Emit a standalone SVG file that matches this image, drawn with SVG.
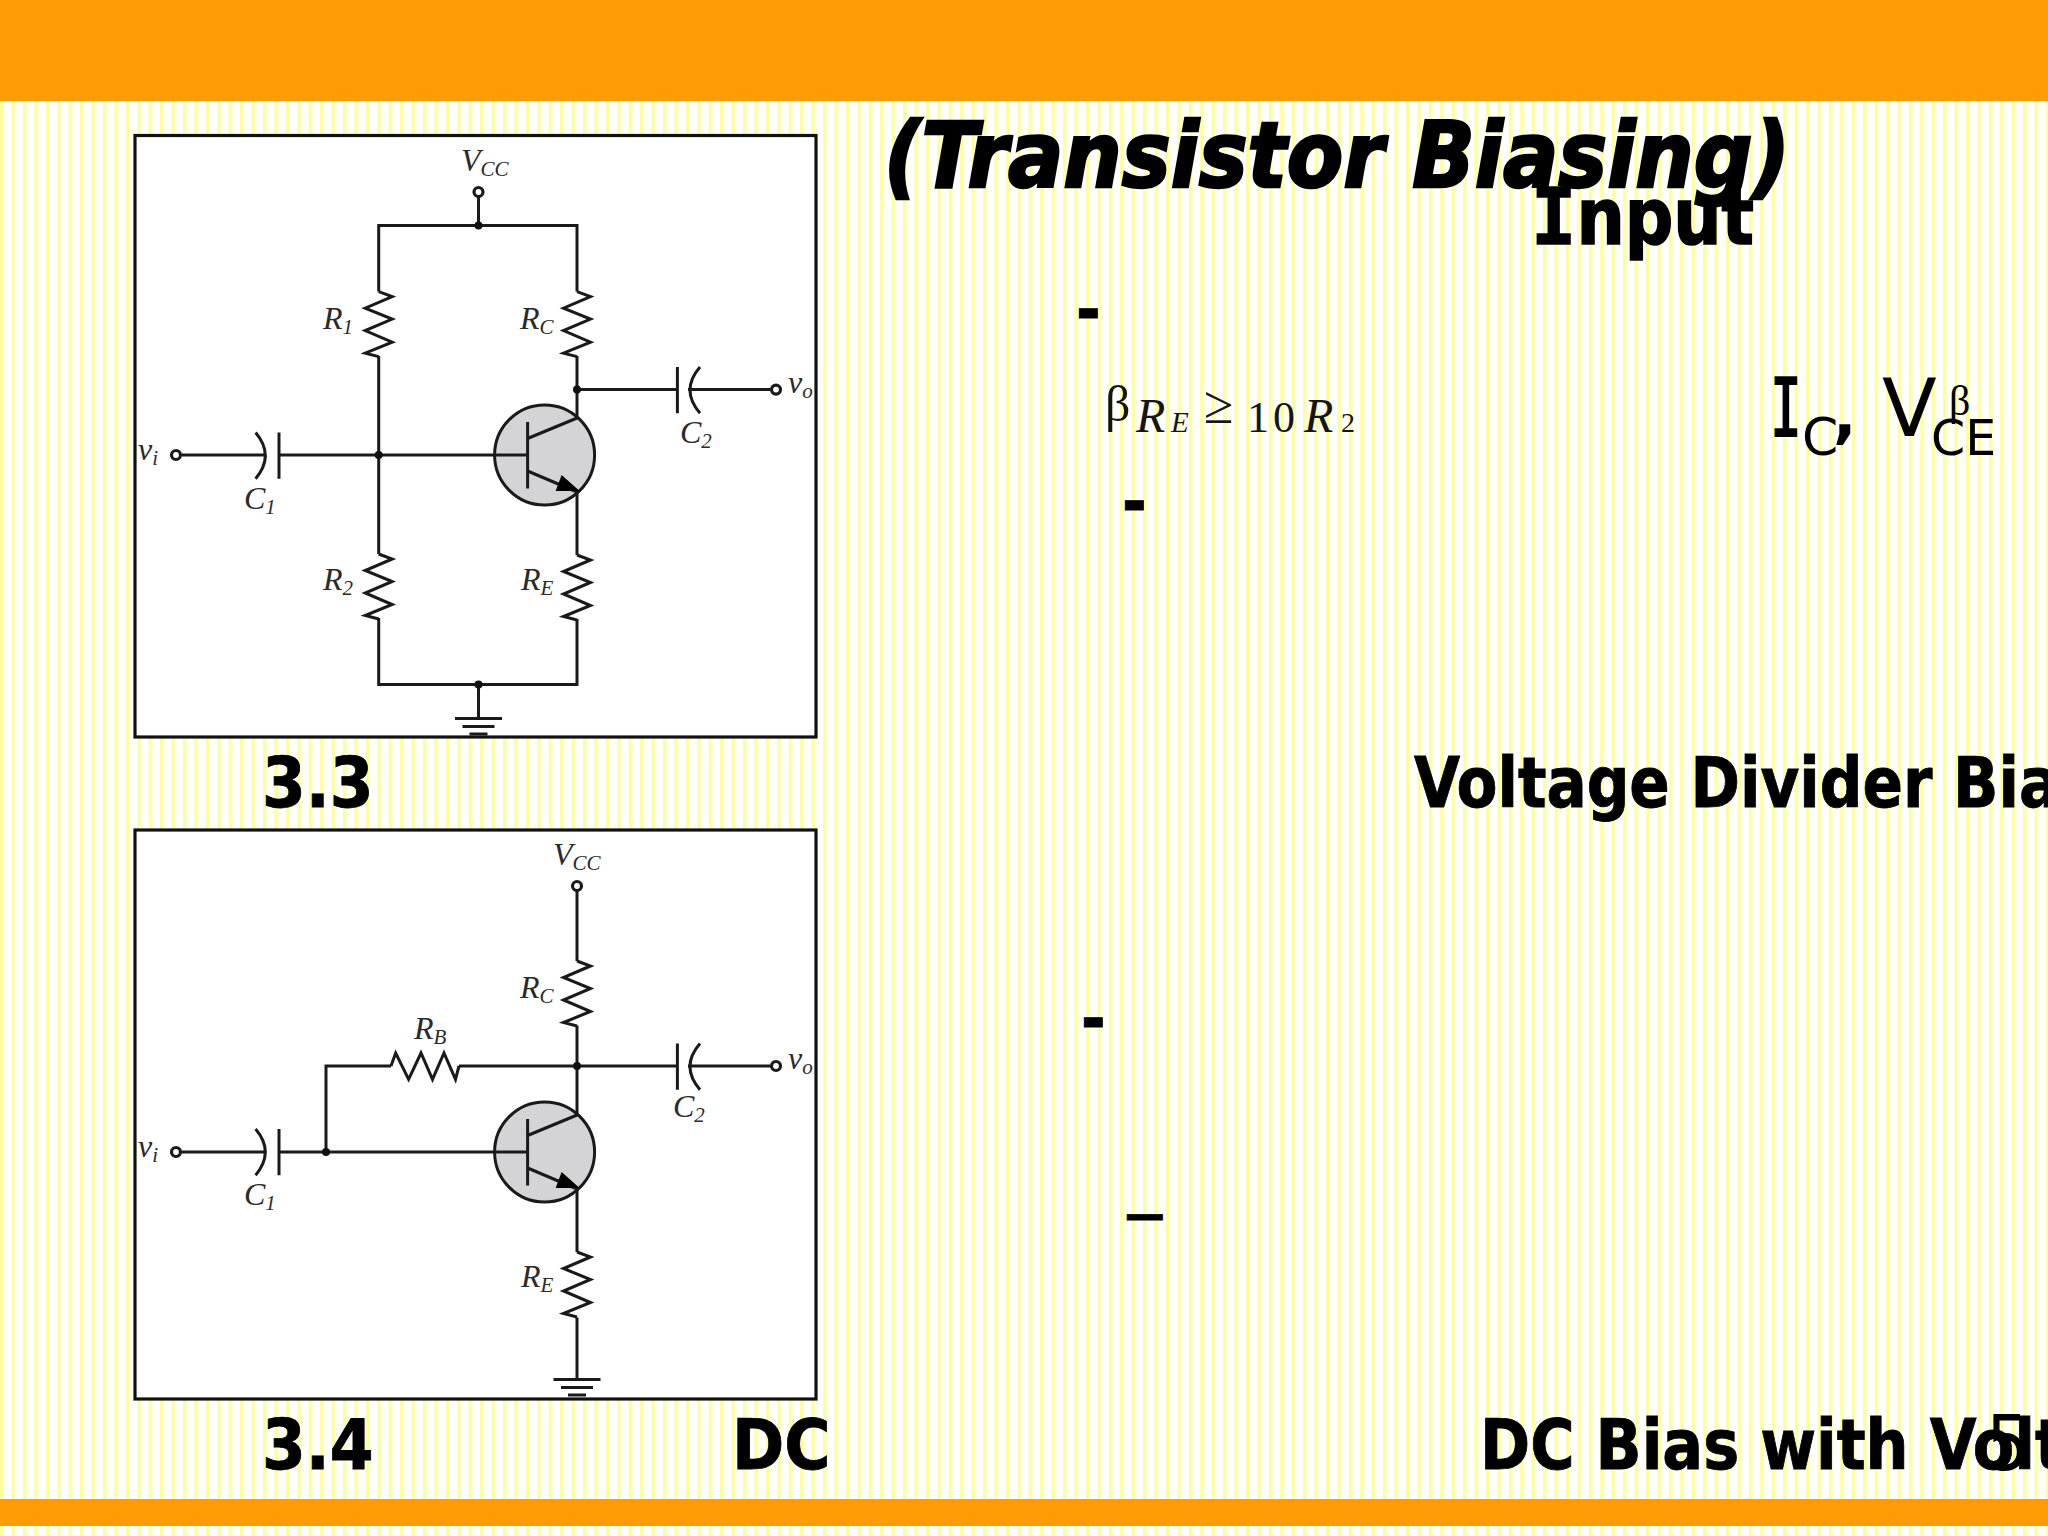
<svg xmlns="http://www.w3.org/2000/svg" width="2048" height="1536" viewBox="0 0 2048 1536">
<style>
.w{fill:none;stroke:#1a1a1a;stroke-width:3;stroke-linejoin:miter}
.t{fill:#fff;stroke:#1a1a1a;stroke-width:3.2}
.d{fill:#111}
.l{font-family:"Liberation Serif",serif;font-style:italic;fill:#2a2a2a;font-size:32px}
.s{font-size:21px}
.b{font-family:"DejaVu Sans Condensed","DejaVu Sans",sans-serif;font-stretch:condensed;font-weight:bold;fill:#000;stroke:#000;stroke-width:.8px;font-size:70px}
.panel{fill:#fff;stroke:#111;stroke-width:3.2}
.m{font-family:"Liberation Serif",serif;fill:#151515}
.mi{font-style:italic}
</style>
<defs>
<pattern id="st" width="11.43" height="20" patternUnits="userSpaceOnUse">
<rect width="11.43" height="20" fill="#fff"/>
<rect x="0" width="3.4" height="20" fill="#ffff99"/>
</pattern>
<path id="rv" class="w" d="M0 0L13.5 5L-13.5 16.5L13.5 27.5L-13.5 39L13.5 50.5L-13.5 61.5L0 65"/>
<g id="npn">
<circle cx="0" cy="0" r="50" fill="#d4d4d6" stroke="#1a1a1a" stroke-width="3"/>
<path class="w" d="M-50 0H-17M-17 -33V33.500"/>
<path class="w" d="M-17 -16.500L32.500 -37M-17 16L32.500 37"/>
<path d="M35 36L11 36L17 20Z" fill="#000"/>
</g>
<g id="c1"><path class="w" d="M255.600 0Q275 23 255.600 46.200M279 0V46.200"/></g>
<g id="c2"><path class="w" d="M677.400 0V46.200M700 0Q680 23 700 46.200"/></g>
<g id="gnd"><path class="w" d="M-23.500 0H23.500M-16 8H16M-9 15.500H9"/></g>
</defs>

<rect id="background" width="2048" height="1536" fill="url(#st)"/>
<rect id="top-bar" width="2048" height="101" fill="#ff9c05"/>
<rect id="bottom-bar" y="1499" width="2048" height="27" fill="#ff9c05"/>

<g id="figure-3-3">
<rect class="panel" x="135" y="135.500" width="681" height="601.500"/>
<g id="wires-3-3">
<path class="w" d="M478.500 197V225.400M378.700 291.600V225.400H577V291.600M378.700 356V554M378.700 618V684.500H577V619M577 356V418M577 492V555M478.500 684.500V718M182 455H264M279 455H495M577 389.600H677M688 389.600H770"/>
</g>
<g id="junctions-3-3" class="d">
<circle cx="478.500" cy="225.400" r="4"/><circle cx="577" cy="389.600" r="4"/><circle cx="378.700" cy="455" r="4"/><circle cx="478.500" cy="684.500" r="4"/>
</g>
<circle id="vcc-terminal" class="t" cx="478.500" cy="192" r="4.500"/>
<circle id="vi-terminal" class="t" cx="176" cy="455" r="4.500"/>
<circle id="vo-terminal" class="t" cx="776" cy="389.600" r="4.500"/>
<g id="r1"><use href="#rv" x="378.700" y="291.600"/></g>
<g id="rc"><use href="#rv" x="577" y="291.600"/></g>
<g id="r2"><use href="#rv" x="378.700" y="554"/></g>
<g id="re"><use href="#rv" x="577" y="555"/></g>
<g id="q1"><use href="#npn" x="544.600" y="455"/></g>
<g id="c1-3-3"><use href="#c1" y="432.500"/></g>
<g id="c2-3-3"><use href="#c2" y="367"/></g>
<g id="ground-3-3"><use href="#gnd" x="478.500" y="718.400"/></g>
<text class="l" x="461" y="171">V<tspan class="s" dy="5">CC</tspan></text>
<text class="l" x="323" y="329">R<tspan class="s" dy="5">1</tspan></text>
<text class="l" x="520" y="329">R<tspan class="s" dy="5">C</tspan></text>
<text class="l" x="323" y="590">R<tspan class="s" dy="5">2</tspan></text>
<text class="l" x="521" y="590">R<tspan class="s" dy="5">E</tspan></text>
<text class="l" x="138" y="460">v<tspan class="s" dy="5">i</tspan></text>
<text class="l" x="788" y="393">v<tspan class="s" dy="5">o</tspan></text>
<text class="l" x="244" y="509">C<tspan class="s" dy="5">1</tspan></text>
<text class="l" x="680" y="443">C<tspan class="s" dy="5">2</tspan></text>
</g>

<g id="figure-3-4">
<rect class="panel" x="135" y="830" width="681" height="569"/>
<g id="wires-3-4">
<path class="w" d="M577 891V961M577 1025.500V1115M577 1188.500V1252M577 1317.500V1379.600M326 1152V1066H391M459 1066H677M688 1066H770M182 1152H264M279 1152H495"/>
</g>
<g id="junctions-3-4" class="d">
<circle cx="577" cy="1066" r="4"/><circle cx="326" cy="1152" r="4"/>
</g>
<circle id="vcc-terminal-2" class="t" cx="577" cy="886" r="4.500"/>
<circle id="vi-terminal-2" class="t" cx="176" cy="1152" r="4.500"/>
<circle id="vo-terminal-2" class="t" cx="776" cy="1066" r="4.500"/>
<g id="rc-2"><use href="#rv" x="577" y="961"/></g>
<g id="re-2"><use href="#rv" x="577" y="1252"/></g>
<g id="rb"><path class="w" d="M391 1066L395.700 1053L408.600 1079.400L421 1053L432.500 1079.400L444 1053L455.500 1079.400L459 1066"/></g>
<g id="q1-2"><use href="#npn" x="544.600" y="1152"/></g>
<g id="c1-3-4"><use href="#c1" y="1129"/></g>
<g id="c2-3-4"><use href="#c2" y="1043.500"/></g>
<g id="ground-3-4"><use href="#gnd" x="577" y="1379.600"/></g>
<text class="l" x="553" y="865">V<tspan class="s" dy="5">CC</tspan></text>
<text class="l" x="520" y="998">R<tspan class="s" dy="5">C</tspan></text>
<text class="l" x="414" y="1039">R<tspan class="s" dy="5">B</tspan></text>
<text class="l" x="521" y="1287">R<tspan class="s" dy="5">E</tspan></text>
<text class="l" x="138" y="1157">v<tspan class="s" dy="5">i</tspan></text>
<text class="l" x="788" y="1069">v<tspan class="s" dy="5">o</tspan></text>
<text class="l" x="244" y="1205">C<tspan class="s" dy="5">1</tspan></text>
<text class="l" x="673" y="1117">C<tspan class="s" dy="5">2</tspan></text>
</g>

<g id="texts">
<text class="b" x="884" y="187" font-style="italic" style="font-size:91px;stroke-width:2.500px" textLength="906" lengthAdjust="spacingAndGlyphs">(Transistor Biasing)</text>
<text class="b" x="1531" y="244" style="font-size:78px;stroke-width:1.500px" textLength="223" lengthAdjust="spacingAndGlyphs"><tspan font-family="DejaVu Sans Mono">I</tspan>nput</text>
<text class="b" x="262" y="807">3.3</text>
<text class="b" x="262" y="1469">3.4</text>
<text class="b" x="732" y="1469">DC</text>
<text class="b" transform="translate(1414 807) scale(.947 1)">Voltage Divider Bias</text>
<text x="1986" y="1470" style="font-size:76px;font-family:'DejaVu Sans Condensed','DejaVu Sans',sans-serif;font-stretch:condensed" fill="#000">5</text>
<text class="b" transform="translate(1480 1469) scale(.96 1)">DC Bias with Volt</text>
<text class="b" x="1076" y="332" style="font-size:66px">-</text>
<text class="b" x="1122" y="524" style="font-size:66px">-</text>
<text class="b" x="1081" y="1041" style="font-size:66px">-</text>
<text class="b" x="1125" y="1229" style="font-size:44px">—</text>
</g>

<g id="formula" class="m">
<text x="1105" y="421" font-size="50">β</text>
<text x="1136" y="432" font-size="48" class="mi">R</text>
<text x="1171" y="432" font-size="29" class="mi">E</text>
<text x="1204" y="423" font-size="54">≥</text>
<text x="1247" y="432" font-size="44">1</text>
<text x="1273" y="432" font-size="44">0</text>
<text x="1304" y="432" font-size="48" class="mi">R</text>
<text x="1341" y="432" font-size="28">2</text>
</g>

<g id="ic-vce" font-family="DejaVu Sans, sans-serif" fill="#000">
<text transform="translate(1770 436) scale(.66 1)" font-size="80" font-family="DejaVu Sans Mono, monospace" stroke="#000" stroke-width="2">I</text>
<text x="1802" y="455" font-size="52">C</text>
<text x="1833" y="436" font-size="62" font-weight="bold">,</text>
<text x="1882" y="436" font-size="80">V</text>
<text x="1931" y="455" font-size="49">CE</text>
<text x="1949" y="415" font-size="42" font-family="Liberation Serif, serif">β</text>
</g>
</svg>
